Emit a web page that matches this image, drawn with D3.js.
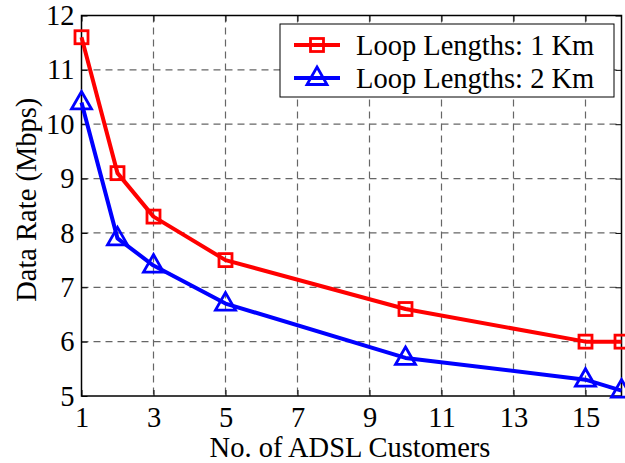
<!DOCTYPE html>
<html>
<head>
<meta charset="utf-8">
<script src="https://cdn.jsdelivr.net/npm/d3@7"></script>
<style>
  html, body { margin: 0; padding: 0; background: #fff; }
  svg { display: block; font-family: "Liberation Serif", "Times New Roman", serif; }
</style>
</head>
<body>
<svg id="chart" width="625" height="463"></svg>
<script>
// Number of ADSL customers and the achieved data rate (Mbps)
const customers = [1, 2, 3, 5, 10, 15, 16];
const rate1km = [11.6, 9.1, 8.3, 7.5, 6.6, 6.0, 6.0];
const rate2km = [10.4, 7.9, 7.4, 6.7, 5.7, 5.3, 5.1];
const xTicks = [1, 3, 5, 7, 9, 11, 13, 15];
const yTicks = [5, 6, 7, 8, 9, 10, 11, 12];
const seriesNames = ["Loop Lengths: 1 Km", "Loop Lengths: 2 Km"];

const svg = d3.select("#chart");
const L = 81.5, R = 621.5, T = 15.5, B = 396;
const FONT = "Liberation Serif, Times New Roman, serif";
const fontSize = 28.5;

const x = d3.scaleLinear().domain([1, 16]).range([L, R]);
const y = d3.scaleLinear().domain([5, 12]).range([B, T]);

// dashed grid
const grid = svg.append("g").attr("stroke", "#666").attr("stroke-width", 1.2)
  .attr("stroke-dasharray", "7,5");
xTicks.filter(v => v > 1).forEach(v => {
  grid.append("line").attr("x1", x(v)).attr("x2", x(v)).attr("y1", T).attr("y2", B);
});
yTicks.filter(v => v > 5 && v < 12).forEach(v => {
  grid.append("line").attr("x1", L).attr("x2", R).attr("y1", y(v)).attr("y2", y(v));
});

// axes with inward ticks on all four sides
const fmt = d3.format("d");
const axB = svg.append("g").attr("transform", `translate(0,${B})`)
  .call(d3.axisBottom(x).tickValues(xTicks).tickFormat(fmt).tickSizeInner(-6).tickSizeOuter(0).tickPadding(11));
const axT = svg.append("g").attr("transform", `translate(0,${T})`)
  .call(d3.axisTop(x).tickValues(xTicks).tickSizeInner(-6).tickSizeOuter(0).tickFormat(""));
const axL = svg.append("g").attr("transform", `translate(${L},0)`)
  .call(d3.axisLeft(y).tickValues(yTicks).tickFormat(fmt).tickSizeInner(-6).tickSizeOuter(0).tickPadding(7));
const axR = svg.append("g").attr("transform", `translate(${R},0)`)
  .call(d3.axisRight(y).tickValues(yTicks).tickSizeInner(-6).tickSizeOuter(0).tickFormat(""));
[axB, axT, axL, axR].forEach(a => {
  a.attr("font-family", FONT).attr("font-size", fontSize);
  a.selectAll(".domain").remove();
  a.selectAll("line").attr("stroke", "#000").attr("stroke-width", 1);
  a.selectAll("text").attr("fill", "#000");
});
axB.selectAll("text").attr("dy", "0.71em");

svg.append("rect").attr("x", L).attr("y", T).attr("width", R - L).attr("height", B - T)
  .attr("fill", "none").attr("stroke", "#000").attr("stroke-width", 1.5);

// axis titles
svg.append("text").attr("x", 350).attr("y", 457)
  .attr("text-anchor", "middle").attr("font-family", FONT).attr("font-size", fontSize)
  .text("No. of ADSL Customers");
svg.append("text").attr("transform", `translate(36,${(T + B) / 2 - 6}) rotate(-90)`)
  .attr("text-anchor", "middle").attr("font-family", FONT).attr("font-size", fontSize)
  .text("Data Rate (Mbps)");

// series
const line = d3.line().x(d => x(d[0])).y(d => y(d[1]));
const series = [
  { name: seriesNames[0], vals: rate1km, color: "#ff0000", shape: "square" },
  { name: seriesNames[1], vals: rate2km, color: "#0000ff", shape: "triangle" }
];

function marker(g, shape, color, cx, cy) {
  if (shape === "square") {
    g.append("rect").attr("x", cx - 6.5).attr("y", cy - 6.5).attr("width", 13).attr("height", 13)
      .attr("fill", "none").attr("stroke", color).attr("stroke-width", 2.8);
  } else {
    g.append("path")
      .attr("d", `M${cx},${cy - 11} L${cx + 10},${cy + 6.5} L${cx - 10},${cy + 6.5} Z`)
      .attr("fill", "none").attr("stroke", color).attr("stroke-width", 2.8)
      .attr("stroke-linejoin", "miter");
  }
}

series.forEach(s => {
  const pts = customers.map((c, i) => [c, s.vals[i]]);
  svg.append("path").datum(pts).attr("d", line).attr("fill", "none")
    .attr("stroke", s.color).attr("stroke-width", 4).attr("stroke-linejoin", "round");
  const g = svg.append("g");
  pts.forEach(p => marker(g, s.shape, s.color, x(p[0]), y(p[1])));
});

// legend
const lg = svg.append("g");
lg.append("rect").attr("x", 280).attr("y", 24).attr("width", 334).attr("height", 73)
  .attr("fill", "#fff").attr("stroke", "#000").attr("stroke-width", 1);
series.forEach((s, i) => {
  const yy = 45 + i * 33;
  lg.append("line").attr("x1", 294).attr("x2", 340).attr("y1", yy).attr("y2", yy)
    .attr("stroke", s.color).attr("stroke-width", 4);
  marker(lg, s.shape, s.color, 317, yy);
  lg.append("text").attr("x", 356).attr("y", yy).attr("dy", "0.35em")
    .attr("font-family", FONT).attr("font-size", fontSize).text(s.name);
});
</script>
</body>
</html>
